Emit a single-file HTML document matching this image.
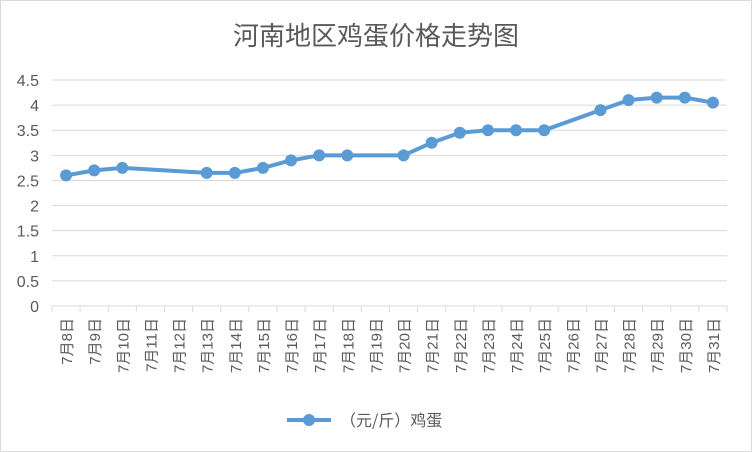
<!DOCTYPE html>
<html><head><meta charset="utf-8"><style>
body{margin:0;background:#fff}
svg{display:block;font-family:"Liberation Sans","Noto Sans CJK SC",sans-serif}
</style></head><body>
<svg id="c" width="752" height="452">
<rect x="0.5" y="0.5" width="751" height="451" fill="#fff" stroke="#d9d9d9"/>
<text x="376" y="45" text-anchor="middle" font-size="26" fill="#595959" font-family="'Noto Sans CJK SC',sans-serif">河南地区鸡蛋价格走势图</text>
<g id="grid"></g><g id="xaxis"></g><g id="series"></g>
<g>
<line x1="287" y1="420" x2="331" y2="420" stroke="#5b9bd5" stroke-width="4"/>
<circle cx="309" cy="420" r="6" fill="#5b9bd5"/>
<text x="340" y="426" font-size="16" fill="#595959" font-family="'Noto Sans CJK SC',sans-serif">（元/斤）鸡蛋</text>
</g>
</svg>
<script>
const categories=["7月8日","7月9日","7月10日","7月11日","7月12日","7月13日","7月14日","7月15日","7月16日","7月17日","7月18日","7月19日","7月20日","7月21日","7月22日","7月23日","7月24日","7月25日","7月26日","7月27日","7月28日","7月29日","7月30日","7月31日"];
const prices=[2.6,2.7,2.75,null,null,2.65,2.65,2.75,2.9,3.0,3.0,null,3.0,3.25,3.45,3.5,3.5,3.5,null,3.9,4.1,4.15,4.15,4.05];
const yTicks=[0,0.5,1,1.5,2,2.5,3,3.5,4,4.5];
const yTickLabels=["0","0.5","1","1.5","2","2.5","3","3.5","4","4.5"];
const NS="http://www.w3.org/2000/svg";
const L=52,R=727,T=80,B=306,yMax=4.5;
const bw=(R-L)/categories.length;
const x=i=>L+bw*(i+0.5);
const y=v=>B-(v/yMax)*(B-T);
function mk(t,a,p){const e=document.createElementNS(NS,t);for(const k in a)e.setAttribute(k,a[k]);p.appendChild(e);return e;}
const grid=document.getElementById('grid');
yTicks.forEach((v,i)=>{
 const ln=mk('line',{x1:L,x2:R,y1:y(v),y2:y(v),stroke:'#d9d9d9','stroke-width':1},grid);
 
 
 const t=mk('text',{x:39,y:y(v)+6,'text-anchor':'end','font-size':16,fill:'#595959'},grid);
 t.textContent=yTickLabels[i];
 
 
});
const xa=document.getElementById('xaxis');
categories.forEach((c,i)=>{
 const tk=mk('line',{x1:L+bw*i,x2:L+bw*i,y1:B,y2:B+6,stroke:'#d9d9d9'},xa);
 
 
 const t=mk('text',{transform:`translate(${x(i)+6},${B+12}) rotate(-90)`,'text-anchor':'end','font-size':15,fill:'#595959'},xa);
 t.textContent=c;
 
 
});
mk('line',{x1:R,x2:R,y1:B,y2:B+6,stroke:'#d9d9d9'},xa);
const s=document.getElementById('series');
const pts=[];prices.forEach((v,i)=>{if(v!=null)pts.push([x(i),y(v)]);});
const pl=mk('polyline',{points:pts.map(p=>p.join(',')).join(' '),fill:'none',stroke:'#5b9bd5','stroke-width':4,'stroke-linejoin':'round'},s);


pts.forEach(p=>{
 const c=mk('circle',{cx:p[0],cy:p[1],r:6,fill:'#5b9bd5'},s);
 
 
});
</script>
</body></html>
